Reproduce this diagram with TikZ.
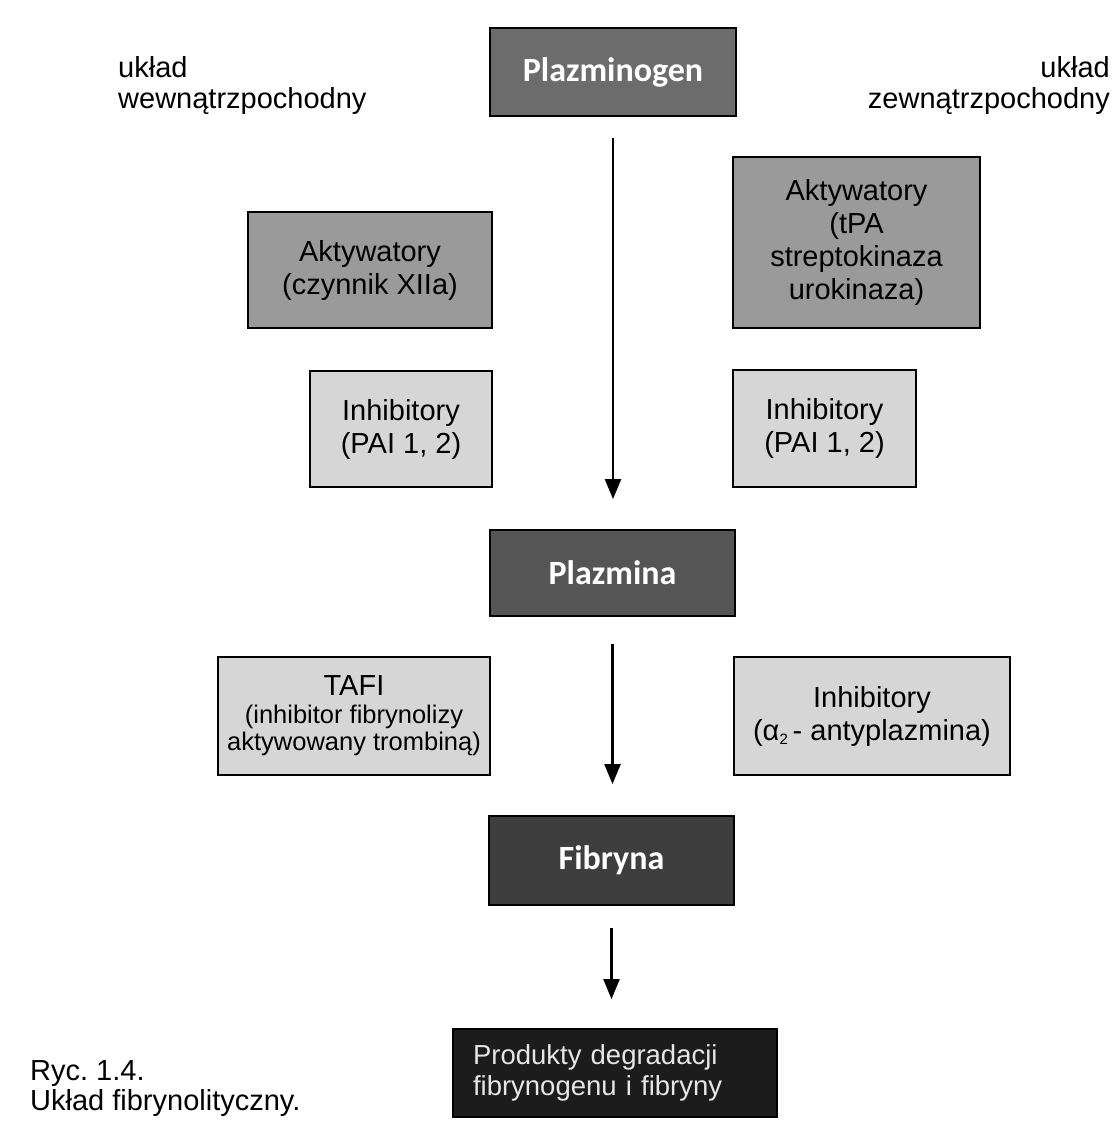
\documentclass[tikz,border=0pt]{standalone}
\usepackage{fontspec}
\setmainfont{Liberation Sans}
\newfontfamily\titlefont{Carlito}
\usetikzlibrary{arrows.meta}
\frenchspacing
\newcommand\fsA{\fontsize{29pt}{33pt}\selectfont}
\newcommand\fsS{\fontsize{25.5pt}{27pt}\selectfont}
\newcommand\fsP{\fontsize{27.5pt}{31pt}\selectfont}
\newcommand\fsT{\fontsize{34pt}{38pt}\selectfont\titlefont\bfseries}
\newcommand\subtwo{\raisebox{-4pt}{\fontsize{15pt}{15pt}\selectfont 2}}
\definecolor{cPg}{HTML}{6C6C6C}
\definecolor{cPm}{HTML}{555555}
\definecolor{cFb}{HTML}{3E3E3E}
\definecolor{cPr}{HTML}{1C1C1C}
\definecolor{cAkt}{HTML}{9A9A9A}
\definecolor{cInh}{HTML}{D6D6D6}
\definecolor{cTxt}{HTML}{E6E6E6}
\begin{document}
\begin{tikzpicture}[x=1pt,y=-1pt,
  box/.style={draw=black, line width=1.8pt, inner sep=0pt, align=center, font=\fsA},
  titlebox/.style={box, text=white, font=\fsT},
  lbl/.style={inner sep=0pt, font=\fsA},
  arr/.style={line width=2.2pt, -{Triangle[length=20pt,width=16pt]}}]
\useasboundingbox (0,0) rectangle (1119,1141);

\node[titlebox, fill=cPg, minimum width=246pt, minimum height=88pt] (pg) at (613,72) {Plazminogen};
\node[box, fill=cAkt, minimum width=244pt, minimum height=116pt] (aktL) at (370,270) {Aktywatory\\(czynnik XIIa)};
\node[box, fill=cInh, minimum width=182pt, minimum height=116pt] (inhL) at (401,429) {Inhibitory\\(PAI 1, 2)};
\node[box, fill=cAkt, minimum width=247pt, minimum height=171pt] (aktR) at (856.5,242.5) {Aktywatory\\(tPA\\streptokinaza\\urokinaza)};
\node[box, fill=cInh, minimum width=183pt, minimum height=117pt] (inhR) at (824.5,428.5) {Inhibitory\\(PAI 1, 2)};
\node[titlebox, fill=cPm, minimum width=245pt, minimum height=86pt] (pm) at (612.5,573) {Plazmina};
\node[box, fill=cInh, minimum width=272pt, minimum height=118pt, font=\fsS] (tafi) at (354,716) {{\fsA TAFI}\\[1pt](inhibitor fibrynolizy\\aktywowany trombiną)};
\node[box, fill=cInh, minimum width=276pt, minimum height=118pt] (inhA) at (872,716) {Inhibitory\\(α\subtwo\,- antyplazmina)};
\node[titlebox, fill=cFb, minimum width=245pt, minimum height=89pt] (fib) at (611.5,860.5) {Fibryna};
\node[box, fill=cPr, text=cTxt, font=\fsP, minimum width=324pt, minimum height=88pt, text width=284pt, align=left] (prod) at (615,1073) {Produkty degradacji\\fibrynogenu i fibryny};

\node[lbl, anchor=base west] (uL1) at (118,77) {układ};
\node[lbl, anchor=base west] (uL2) at (118,108) {wewnątrzpochodny};
\node[lbl, anchor=base east] (uR1) at (1110,77) {układ};
\node[lbl, anchor=base east] (uR2) at (1110,108) {zewnątrzpochodny};
\node[lbl, anchor=base west] (cap1) at (30,1080) {Ryc. 1.4.};
\node[lbl, anchor=base west] (cap2) at (30,1110) {Układ fibrynolityczny.};

\draw[arr, shorten <=21pt, shorten >=30pt] (pg.south) -- (pg.south |- pm.north);
\draw[arr, shorten <=27pt, shorten >=31pt] (pm.south) -- (pm.south |- fib.north);
\draw[arr, shorten <=22pt, shorten >=29pt] (fib.south) -- (fib.south |- prod.north);
\end{tikzpicture}
\end{document}
